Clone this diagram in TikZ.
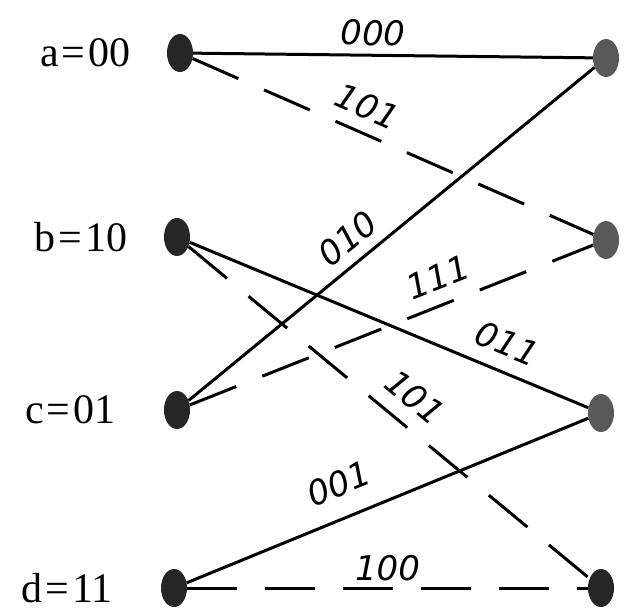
\documentclass[tikz,border=0pt]{standalone}
\usepackage{fontspec}
\setmainfont{Liberation Serif}
\newfontfamily\handfont{DejaVu Sans}
\usetikzlibrary{positioning,shapes.geometric}

\begin{document}
\begin{tikzpicture}[x=1pt,y=-1pt,
    vertex/.style={ellipse, fill=black!85, minimum width=26pt, minimum height=38pt, inner sep=0pt},
    rvertex/.style={vertex, fill=black!65},
    statelabel/.style={inner sep=0pt, font=\fontsize{42}{44}\selectfont},
    code/.style={font=\handfont\itshape\fontsize{34}{36}\selectfont, sloped, inner sep=2pt},
    solidedge/.style={line width=3pt},
    dashedge/.style={line width=3pt, dash pattern=on 50pt off 28pt}]
  \useasboundingbox (0,0) rectangle (629,613);
  % Left states
  \node[vertex] (la) at (180,53) {};
  \node[vertex] (lb) at (177,237) {};
  \node[vertex] (lc) at (177,410) {};
  \node[vertex] (ld) at (174,588) {};
  % Right states
  \node[rvertex] (ra) at (606,58) {};
  \node[rvertex] (rb) at (606,240) {};
  \node[rvertex] (rc) at (601,413) {};
  \node[vertex] (rd) at (601,588) {};
  % State names
  \node[statelabel, left=36pt of la] {a\kern3pt=\kern3pt00};
  \node[statelabel, left=36pt of lb] {b\kern3pt=\kern3pt10};
  \node[statelabel, left=48pt of lc] {c\kern3pt=\kern3pt01};
  \node[statelabel, left=48pt of ld] {d\kern3pt=\kern3pt11};
  % Solid branches
  \draw[solidedge] (la) -- node[code, pos=0.45, above=6pt] {000} (ra);
  \draw[solidedge] (lc) -- node[code, pos=0.43, above=8pt] {010} (ra);
  \draw[solidedge] (lb) -- node[code, pos=0.77, above=12pt] {011} (rc);
  \draw[solidedge] (ld) -- node[code, pos=0.41, above=18pt] {001} (rc);
  % Dashed branches
  \draw[dashedge] (la) -- node[code, pos=0.41, above=10pt] {101} (rb);
  \draw[dashedge] (lc) -- node[code, pos=0.64, above=12pt] {111} (rb);
  \draw[dashedge] (lb) -- node[code, pos=0.52, above=12pt] {101} (rd);
  \draw[dashedge] (ld) -- node[code, pos=0.5, above=4pt] {100} (rd);
\end{tikzpicture}
\end{document}
